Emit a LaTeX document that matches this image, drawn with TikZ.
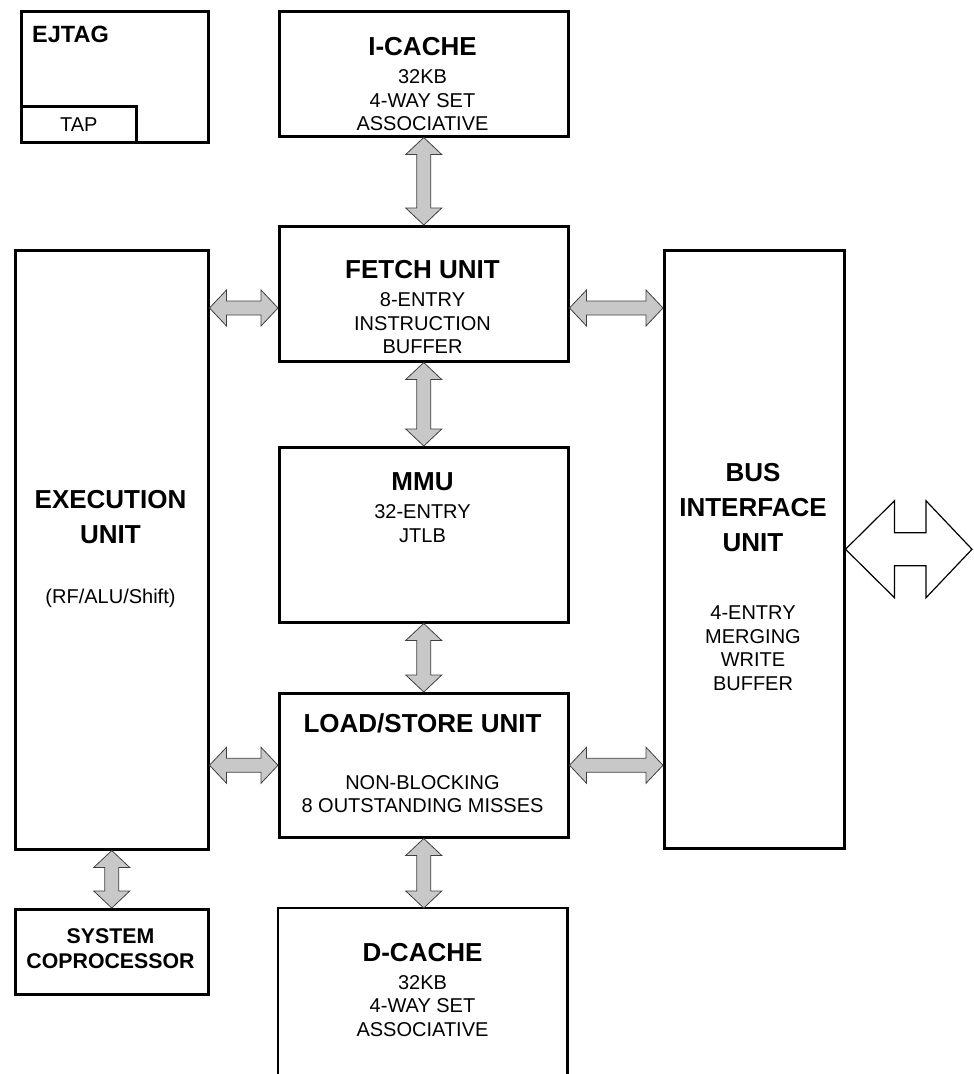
\documentclass[tikz,border=0pt]{standalone}
\usepackage{fontspec}
\setmainfont{Liberation Sans}
\usetikzlibrary{calc,positioning}

\definecolor{busgray}{RGB}{200,200,200}

\tikzset{
  blk/.style={draw, line width=2.5pt, line join=miter, inner sep=0pt, anchor=north west},
  ttl/.style={font=\fontsize{26}{35}\selectfont\bfseries, align=center, inner sep=0pt},
  txt/.style={font=\fontsize{20}{23.5}\selectfont, align=center, inner sep=0pt},
  bus/.style={draw=black!75, fill=busgray, line width=0.8pt, line join=miter},
  ioarrow/.style={draw=black, fill=white, line width=1.2pt, line join=miter}
}

% vertical bus arrow, #1 above #2
\newcommand{\vbus}[2]{%
  \draw[bus] let \p1=(#1), \p2=(#2) in
    (\x1,\y1) -- ++(18pt,-17pt) -- ++(-11pt,0pt) -- (\x1+7pt,\y2+17pt) -- ++(11pt,0pt)
    -- (\x1,\y2) -- ++(-18pt,17pt) -- ++(11pt,0pt) -- (\x1-7pt,\y1-17pt) -- ++(-11pt,0pt) -- cycle;}
% horizontal bus arrow, #1 left of #2
\newcommand{\hbus}[2]{%
  \draw[bus] let \p1=(#1), \p2=(#2) in
    (\x1,\y1) -- ++(17pt,18pt) -- ++(0pt,-11pt) -- (\x2-17pt,\y1+7pt) -- ++(0pt,11pt)
    -- (\x2,\y1) -- ++(-17pt,-18pt) -- ++(0pt,11pt) -- (\x1+17pt,\y1-7pt) -- ++(0pt,-11pt) -- cycle;}

\begin{document}
\begin{tikzpicture}[x=1pt, y=-1pt]

\useasboundingbox (0,0) rectangle (974,1074);

\node[blk, minimum width=187, minimum height=131] (ejtag) at (20,10) {};
\node[blk, minimum width=115, minimum height=36, font=\fontsize{20}{23.5}\selectfont] (tap) at (20,105) {TAP};
\node[ttl, font=\fontsize{23.5}{28}\selectfont\bfseries, anchor=west] (ejtagT) at (32,34) {EJTAG};

\node[blk, minimum width=289, minimum height=125] (icache) at (278,10) {};
\node[ttl] (icacheT) at (422.5,47) {I-CACHE};
\node[txt] (icacheB) at (422.5,100.5) {32KB\\4-WAY SET\\ASSOCIATIVE};

\node[blk, minimum width=289, minimum height=135] (fetch) at (278,225) {};
\node[ttl] (fetchT) at (422.5,270) {FETCH UNIT};
\node[txt] (fetchB) at (422.5,323.5) {8-ENTRY\\INSTRUCTION\\BUFFER};

\node[blk, minimum width=289, minimum height=175] (mmu) at (278,446) {};
\node[ttl] (mmuT) at (422.5,482) {MMU};
\node[txt] (mmuB) at (422.5,523.75) {32-ENTRY\\JTLB};

\node[blk, minimum width=289, minimum height=144] (lsu) at (278,692) {};
\node[ttl] (lsuT) at (422.5,723.5) {LOAD/STORE UNIT};
\node[txt] (lsuB) at (422.5,794) {NON-BLOCKING\\8 OUTSTANDING MISSES};

\node[inner sep=0pt, anchor=north west, minimum width=289, minimum height=172] (dcache) at (278,908) {};
\draw[line width=2.5pt, line join=miter] (dcache.south west) |- (dcache.north east) -- (dcache.south east);
\node[ttl] (dcacheT) at (422.5,952.5) {D-CACHE};
\node[txt] (dcacheB) at (422.5,1006) {32KB\\4-WAY SET\\ASSOCIATIVE};

\node[blk, minimum width=193, minimum height=599] (exu) at (14,249) {};
\node[ttl] (exuT) at (110.5,517.5) {EXECUTION\\UNIT};
\node[txt, anchor=base] (exuB) at (110.5,603.7) {(RF/ALU/Shift)};

\node[blk, minimum width=193, minimum height=85] (cop) at (14,908) {};
\node[ttl, font=\fontsize{21.3}{25}\selectfont\bfseries] (copT) at (110.5,948.5) {SYSTEM\\COPROCESSOR};

\node[blk, minimum width=180, minimum height=598] (biu) at (663,249) {};
\node[ttl] (biuT) at (753,507.5) {BUS\\INTERFACE\\UNIT};
\node[txt] (biuB) at (753,648) {4-ENTRY\\MERGING\\WRITE\\BUFFER};

\coordinate (busF) at (0,308);
\coordinate (ext) at (972,548);

\vbus{icache.south}{fetch.north}
\vbus{fetch.south}{mmu.north}
\vbus{mmu.south}{lsu.north}
\vbus{lsu.south}{dcache.north}
\vbus{exu.south}{cop.north}
\hbus{exu.east |- busF}{fetch.west |- busF}
\hbus{fetch.east |- busF}{biu.west |- busF}
\hbus{exu.east |- lsu.west}{lsu.west}
\hbus{lsu.east}{biu.west |- lsu.east}

\draw[ioarrow] let \p1=(biu.east), \p2=(ext) in
  (\x1,\y1) -- ++(49pt,48.5pt) -- ++(0pt,-32pt) -- (\x2-46pt,\y1+16.5pt) -- ++(0pt,32pt)
  -- (\x2,\y1) -- ++(-46pt,-48.5pt) -- ++(0pt,32pt) -- (\x1+49pt,\y1-16.5pt) -- ++(0pt,-32pt) -- cycle;

\end{tikzpicture}
\end{document}
